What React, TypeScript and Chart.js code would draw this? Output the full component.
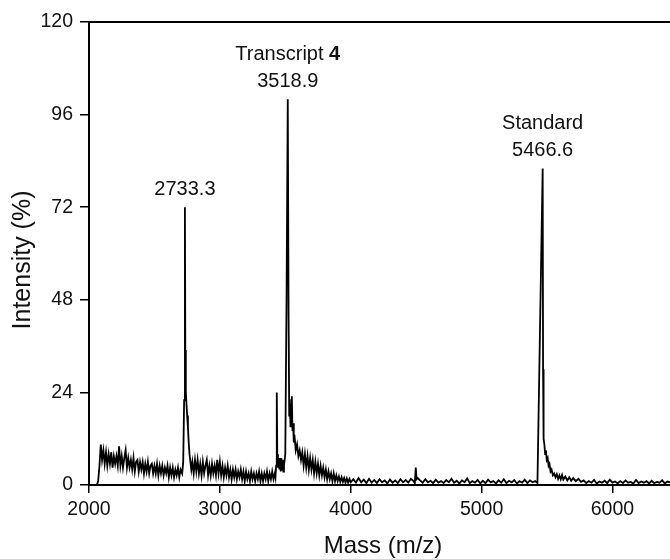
import React, { useEffect, useRef } from "react";
import { Chart, registerables } from "chart.js";

Chart.register(...registerables);

// ---------- axis ticks ----------
const xTicks = [2000, 3000, 4000, 5000, 6000];
const yTicks = [0, 24, 48, 72, 96, 120];
const xMin = 2000;
const xMax = 6440;
const yMin = 0;
const yMax = 120;

// ---------- spectrum data ----------
// regularly sampled noise segments: start mass, step, intensities (%)
const noiseAStart = 2000;
const noiseAStep = 10;
const noiseA = [
  0, 0, 0, 0, 0, 0, 0, 1, 5, 10.5,
  6.5, 9, 5.5, 8.5, 5, 8, 5.5, 8.5, 4.5, 7.5,
  5.5, 7.5, 5, 10, 5, 7.5, 4.5, 7, 9, 4.5,
  7, 4.5, 6.5, 4, 7, 3.5, 6, 6.5, 3.5, 6,
  4, 6, 3, 5.5, 3.5, 6, 3, 5, 5.5, 3,
  5, 3, 5.5, 2.5, 5, 3, 5, 2.5, 4.5, 3,
  5, 2, 4.5, 2.5, 4.5, 2, 4, 2.5, 4.5, 2,
  4,
];

const peak2733: [number, number][] = [
  [2712, 3], [2720, 6], [2727, 22], [2733, 72], [2736, 35], [2740, 24],
  [2745, 21], [2750, 18], [2756, 15], [2762, 11], [2768, 8], [2775, 6],
  [2782, 4],
];

const noiseBStart = 2790;
const noiseBStep = 10;
const noiseB = [
  6, 3, 6.5, 3.5, 6.5, 3, 5.5, 2.5, 6, 3,
  5, 6.5, 2.5, 5, 2.5, 5.5, 3, 5, 2.5, 6.5,
  3, 6, 2.5, 5, 2, 4.5, 2.5, 5, 2, 4,
  1.5, 4, 2, 4, 1.5, 3.5, 2, 4, 1.5, 3.5,
  1, 3.5, 1.5, 3, 1, 3.5, 1.5, 3, 1, 3,
  1.5, 3.5, 1, 3, 1, 3, 1.5, 3.5, 1, 3,
  1.5, 3.5, 1.5, 3,
];

const peak3519: [number, number][] = [
  [3425, 2], [3430, 5], [3435, 24], [3439, 8], [3444, 4.5], [3450, 7],
  [3455, 4], [3460, 7], [3465, 3.5], [3470, 7], [3475, 4], [3480, 6.5],
  [3485, 3.5], [3490, 5], [3500, 8], [3510, 50], [3519, 100], [3525, 45],
  [3530, 18], [3535, 21], [3540, 15], [3545, 22], [3550, 23], [3555, 14],
  [3560, 16], [3565, 11], [3570, 13], [3580, 9], [3590, 10.5], [3600, 7.5],
  [3610, 9], [3620, 6.5],
];

const noiseCStart = 3630;
const noiseCStep = 10;
const noiseC = [
  8.5, 5, 8, 4.5, 7.5, 4, 7, 4, 6.5, 3,
  6, 3, 5.5, 2.5, 5, 2.5, 4.5, 2, 4, 1.5,
  3.5, 1.5, 3, 1, 3, 1, 2.5, 1, 2.2, 0.8,
  2, 0.8, 1.8, 0.6, 1.7, 0.6, 1.6, 0.7,
];

const noiseDStart = 4020;
const noiseDStep = 20;
const noiseD = [
  1.5, 0.6, 1.8, 0.7, 1.4, 0.5, 1.6, 0.6, 1.3, 0.5,
  1.5, 0.7, 1.2, 0.4, 1.4, 0.6, 1.2, 0.5, 1.5, 0.7,
  1.3, 0.6, 1.6, 1,
];

const peak4497: [number, number][] = [
  [4490, 0.5], [4497, 4.5], [4504, 1.5], [4512, 1.8],
];

const noiseEStart = 4530;
const noiseEStep = 20;
const noiseE = [
  1.2, 0.6, 1.5, 0.7, 1.1, 0.5, 1.4, 0.6, 1.0, 0.5,
  1.3, 0.7, 1.6, 0.6, 1.1, 0.4, 1.2, 0.7, 1.7, 0.5,
  1.0, 0.6, 1.3, 0.4, 1.1, 0.5, 1.4, 0.7, 1.0, 0.4,
  1.2, 0.6, 1.5, 0.5, 1.1, 0.7, 1.3, 0.4, 1.0, 0.6,
  1.4, 0.5, 1.2, 0.7, 1.0,
];

const peak5467: [number, number][] = [
  [5427, 0.5], [5467, 82], [5470, 30], [5474, 12], [5480, 10.5], [5486, 8],
  [5492, 9], [5498, 6.5], [5505, 7], [5512, 5], [5519, 5.5], [5527, 3.5],
  [5535, 4], [5545, 2.5], [5555, 3], [5565, 2], [5575, 2.8], [5585, 1.6],
  [5595, 2.5], [5605, 1.5], [5615, 2.6], [5625, 1.4], [5640, 2.2], [5655, 1.2],
  [5670, 2], [5685, 1.1], [5700, 1.8], [5720, 1], [5740, 1.6], [5760, 0.8],
];

const noiseFStart = 5780;
const noiseFStep = 20;
const noiseF = [
  1.2, 0.5, 1.0, 0.6, 1.3, 0.4, 0.9, 0.6, 1.1, 0.5,
  1.4, 0.6, 0.9, 0.4, 1.0, 0.5, 1.2, 0.6, 0.8, 0.4,
  1.3, 0.5, 0.9, 0.6, 1.0, 0.4, 1.1, 0.5, 0.8, 0.6,
  1.2, 0.4, 0.9, 0.7,
];

// ---------- peak annotations ----------
const labelMass = [2733.3, 3518.9, 5466.6];
const labelPeak = [72, 100, 82];
const labelValue = ["2733.3", "3518.9", "5466.6"];
const labelName = ["", "Transcript ", "Standard"];
const labelBold = ["", "4", ""];

const xTitle = "Mass (m/z)";
const yTitle = "Intensity (%)";

// ---------- build the point table ----------
function seg(start: number, step: number, vals: number[]) {
  return vals.map((v, i) => ({ x: start + i * step, y: v }));
}
function pairs(p: [number, number][]) {
  return p.map(([x, y]) => ({ x, y }));
}
const points = [
  ...seg(noiseAStart, noiseAStep, noiseA),
  ...pairs(peak2733),
  ...seg(noiseBStart, noiseBStep, noiseB),
  ...pairs(peak3519),
  ...seg(noiseCStart, noiseCStep, noiseC),
  ...seg(noiseDStart, noiseDStep, noiseD),
  ...pairs(peak4497),
  ...seg(noiseEStart, noiseEStep, noiseE),
  ...pairs(peak5467),
  ...seg(noiseFStart, noiseFStep, noiseF),
];

const FAMILY = "'Liberation Sans', Arial, Helvetica, sans-serif";
const INK = "#111";

const overlay = {
  id: "overlay",
  afterDraw(chart: any) {
    const { ctx, chartArea, scales } = chart;
    const xs = scales.x;
    const ys = scales.y;
    ctx.save();
    // top frame line
    ctx.strokeStyle = "#000";
    ctx.lineWidth = 2;
    ctx.beginPath();
    ctx.moveTo(chartArea.left - 1, chartArea.top);
    ctx.lineTo(chartArea.right, chartArea.top);
    ctx.stroke();

    // peak labels
    ctx.fillStyle = INK;
    ctx.textBaseline = "middle";
    for (let i = 0; i < labelMass.length; i++) {
      const px = xs.getPixelForValue(labelMass[i]);
      const top = ys.getPixelForValue(labelPeak[i]);
      const yNum = top - 18;
      ctx.font = `20px ${FAMILY}`;
      ctx.textAlign = "center";
      ctx.fillText(labelValue[i], px, yNum);
      if (labelName[i] || labelBold[i]) {
        const yName = yNum - 27;
        ctx.font = `20px ${FAMILY}`;
        const w1 = ctx.measureText(labelName[i]).width;
        ctx.font = `bold 20px ${FAMILY}`;
        const w2 = ctx.measureText(labelBold[i]).width;
        const start = px - (w1 + w2) / 2;
        ctx.textAlign = "left";
        ctx.font = `20px ${FAMILY}`;
        ctx.fillText(labelName[i], start, yName);
        ctx.font = `bold 20px ${FAMILY}`;
        ctx.fillText(labelBold[i], start + w1, yName);
      }
    }

    // axis titles
    ctx.textAlign = "center";
    ctx.font = `24px ${FAMILY}`;
    ctx.fillText(xTitle, 383, 546);
    ctx.translate(23, 260);
    ctx.rotate(-Math.PI / 2);
    ctx.font = `25px ${FAMILY}`;
    ctx.fillText(yTitle, 0, 0);
    ctx.restore();
  },
};

export default function App() {
  const ref = useRef<HTMLCanvasElement>(null);
  useEffect(() => {
    document.body.style.margin = "0";
    const canvas = ref.current!;
    const chart = new Chart(canvas, {
      type: "line",
      data: {
        datasets: [
          {
            data: points,
            borderColor: "#000",
            borderWidth: 1.8,
            pointRadius: 0,
            tension: 0,
            fill: false,
          },
        ],
      },
      options: {
        responsive: false,
        animation: false,
        devicePixelRatio: 1,
        layout: { padding: { top: 22, left: 0, right: 0, bottom: 0 } },
        plugins: { legend: { display: false }, tooltip: { enabled: false } },
        scales: {
          x: {
            type: "linear",
            min: xMin,
            max: xMax,
            afterBuildTicks: (s: any) => {
              s.ticks = xTicks.map((v) => ({ value: v }));
            },
            afterFit: (s: any) => {
              s.height = 74;
            },
            grid: {
              drawOnChartArea: false,
              drawTicks: true,
              tickLength: 8,
              color: "#000",
              lineWidth: 1.5,
            },
            border: { display: true, color: "#000", width: 2 },
            ticks: {
              color: INK,
              font: { family: FAMILY, size: 19.5 },
              padding: 5,
              maxRotation: 0,
              autoSkip: false,
              callback: (v: any) => String(v),
            },
          },
          y: {
            type: "linear",
            min: yMin,
            max: yMax,
            afterBuildTicks: (s: any) => {
              s.ticks = yTicks.map((v) => ({ value: v }));
            },
            afterFit: (s: any) => {
              s.width = 89;
            },
            grid: {
              drawOnChartArea: false,
              drawTicks: true,
              tickLength: 9,
              color: "#000",
              lineWidth: 1.5,
            },
            border: { display: true, color: "#000", width: 2 },
            ticks: {
              color: INK,
              font: { family: FAMILY, size: 19.5 },
              padding: 7,
              autoSkip: false,
              callback: (v: any) => String(v),
            },
          },
        },
      },
      plugins: [overlay],
    });
    return () => chart.destroy();
  }, []);
  return <canvas ref={ref} width={670} height={559} style={{ display: "block" }} />;
}
